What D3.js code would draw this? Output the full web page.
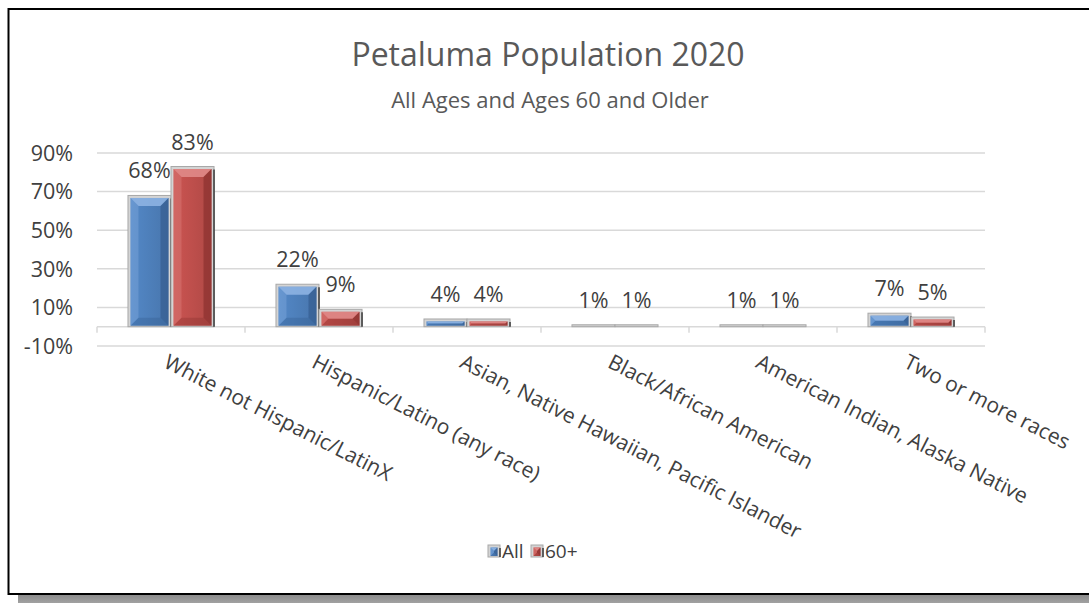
<!DOCTYPE html>
<html>
<head>
<meta charset="utf-8">
<script src="https://cdn.jsdelivr.net/npm/d3@7"></script>
<style>
  body { margin: 0; background: #fff; }
  svg { display: block; font-family: "Open Sans", sans-serif; }
</style>
</head>
<body>
<div id="chart"></div>
<script>
// data
const categories = [
  "White not Hispanic/LatinX",
  "Hispanic/Latino (any race)",
  "Asian, Native Hawaiian, Pacific Islander",
  "Black/African American",
  "American Indian, Alaska Native",
  "Two or more races"
];
const seriesNames = ["All", "60+"];
const allAges = [68, 22, 4, 1, 1, 7];
const age60plus = [83, 9, 4, 1, 1, 5];
const yTicks = [-10, 10, 30, 50, 70, 90];

const W = 1089, H = 603;
const colors = { "All": "#4f81bd", "60+": "#c0504d" };
const lights = { "All": "#8db3e2", "60+": "#e08a88" };
const darks = { "All": "#2f5687", "60+": "#7f2a28" };

const svg = d3.select("#chart").append("svg").attr("width", W).attr("height", H);

// frame + shadow
const shGrad = svg.append("defs").append("linearGradient").attr("id", "shadow").attr("x1", 0).attr("x2", 0).attr("y1", 0).attr("y2", 1);
shGrad.append("stop").attr("offset", "0%").attr("stop-color", "#8c8c8c");
shGrad.append("stop").attr("offset", "100%").attr("stop-color", "#a6a6a6");
svg.append("rect").attr("x", 18).attr("y", 595).attr("width", W).attr("height", 10).attr("fill", "url(#shadow)");
svg.append("rect").attr("x", 8.5).attr("y", 9).attr("width", W + 20).attr("height", 585)
  .attr("fill", "#fff").attr("stroke", "#000").attr("stroke-width", 2);

// titles
svg.append("text").attr("x", 548).attr("y", 66).attr("text-anchor", "middle")
  .attr("font-size", 32).attr("fill", "#595959").text("Petaluma Population 2020");
svg.append("text").attr("x", 550).attr("y", 108).attr("text-anchor", "middle")
  .attr("font-size", 22).attr("fill", "#595959").text("All Ages and Ages 60 and Older");

// scales
const x0 = d3.scaleBand().domain(categories).range([97, 985]).paddingInner(0).paddingOuter(0);
const x1 = d3.scaleBand().domain(seriesNames).range([0, x0.bandwidth()]).paddingInner(0).paddingOuter(0.72);
const y = d3.scaleLinear().domain([-10, 90]).range([346, 153]);

// gridlines
svg.append("g").selectAll("line").data(yTicks).join("line")
  .attr("x1", 97).attr("x2", 985)
  .attr("y1", d => y(d)).attr("y2", d => y(d))
  .attr("stroke", "#d9d9d9").attr("stroke-width", 1.5);

// y labels
svg.append("g").selectAll("text").data(yTicks).join("text")
  .attr("x", 73).attr("y", d => y(d)).attr("dy", "0.36em")
  .attr("text-anchor", "end").attr("font-size", 21.5).attr("fill", "#404040")
  .text(d => d + "%");

// category axis line & ticks
const y0 = y(0);
svg.append("line").attr("x1", 97).attr("x2", 985).attr("y1", y0).attr("y2", y0)
  .attr("stroke", "#d9d9d9").attr("stroke-width", 1.5);
const bounds = categories.map(c => x0(c)).concat([x0.range()[1]]);
svg.append("g").selectAll("line").data(bounds).join("line")
  .attr("x1", d => d).attr("x2", d => d).attr("y1", y0).attr("y2", y0 + 6)
  .attr("stroke", "#d9d9d9").attr("stroke-width", 1.5);

// bars
const rows = [];
categories.forEach((c, i) => {
  rows.push({ cat: c, s: "All", v: allAges[i] });
  rows.push({ cat: c, s: "60+", v: age60plus[i] });
});

const defs = svg.append("defs");
[["a", "All"], ["b", "60+"]].forEach(([id, s]) => {
  const gr = defs.append("linearGradient").attr("id", "grad-" + id).attr("x1", 0).attr("x2", 1).attr("y1", 0).attr("y2", 0);
  gr.append("stop").attr("offset", "0%").attr("stop-color", d3.color(colors[s]).brighter(0.15));
  gr.append("stop").attr("offset", "100%").attr("stop-color", d3.color(colors[s]).darker(0.25));
});

function bevelBar(g, x, top, w, bottom, s) {
  const h = bottom - top;
  // outer gray frame
  g.append("rect").attr("x", x).attr("y", top).attr("width", w).attr("height", h)
    .attr("fill", "#d4d4d4").attr("stroke", "#a8a8a8").attr("stroke-width", 1);
  const b = 2.5;
  const ix = x + b, iy = top + b, iw = w - 2 * b, ih = h - b - 1;
  if (ih <= 1) return;
  g.append("rect").attr("x", ix).attr("y", iy).attr("width", iw).attr("height", ih)
    .attr("fill", "url(#grad-" + (s === "All" ? "a" : "b") + ")");
  const bv = Math.min(8, ih / 2, iw / 2);
  g.append("polygon").attr("points", [[ix, iy], [ix + iw, iy], [ix + iw - bv, iy + bv], [ix + bv, iy + bv]].join(" "))
    .attr("fill", lights[s]).attr("opacity", 0.9);
  g.append("polygon").attr("points", [[ix, iy], [ix + bv, iy + bv], [ix + bv, iy + ih - bv], [ix, iy + ih]].join(" "))
    .attr("fill", lights[s]).attr("opacity", 0.35);
  g.append("polygon").attr("points", [[ix + iw, iy], [ix + iw, iy + ih], [ix + iw - bv, iy + ih - bv], [ix + iw - bv, iy + bv]].join(" "))
    .attr("fill", darks[s]).attr("opacity", 0.55);
  g.append("polygon").attr("points", [[ix, iy + ih], [ix + iw, iy + ih], [ix + iw - bv, iy + ih - bv], [ix + bv, iy + ih - bv]].join(" "))
    .attr("fill", darks[s]).attr("opacity", 0.3);
  g.append("line").attr("x1", x + w).attr("x2", x + w).attr("y1", top + 3).attr("y2", bottom)
    .attr("stroke", "#3a3a3a").attr("stroke-width", 1.5);
}

const barG = svg.append("g");
rows.forEach(r => {
  const bx = x0(r.cat) + x1(r.s);
  bevelBar(barG.append("g"), bx, y(r.v), x1.bandwidth(), y0, r.s);
});

// data labels
svg.append("g").selectAll("text").data(rows).join("text")
  .attr("x", d => x0(d.cat) + x1(d.s) + x1.bandwidth() / 2)
  .attr("y", d => y(d.v) - 17)
  .attr("text-anchor", "middle").attr("font-size", 21.5).attr("fill", "#404040")
  .text(d => d.v + "%");

// category labels
svg.append("g").selectAll("text").data(categories).join("text")
  .attr("transform", d => `translate(${x0(d) + x0.bandwidth() / 2},${350}) rotate(27)`)
  .attr("dy", "0.9em").attr("font-size", 21).attr("fill", "#404040")
  .text(d => d);

// legend
const leg = svg.append("g").attr("transform", "translate(488,545)");
const legItems = [{ s: "All", x: 0 }, { s: "60+", x: 43 }];
legItems.forEach(it => {
  bevelBar(leg.append("g"), it.x, 0, 12, 12, it.s);
  leg.append("text").attr("x", it.x + 14).attr("y", 6).attr("dy", "0.36em")
    .attr("font-size", 19).attr("fill", "#404040").text(it.s);
});
</script>
</body>
</html>
